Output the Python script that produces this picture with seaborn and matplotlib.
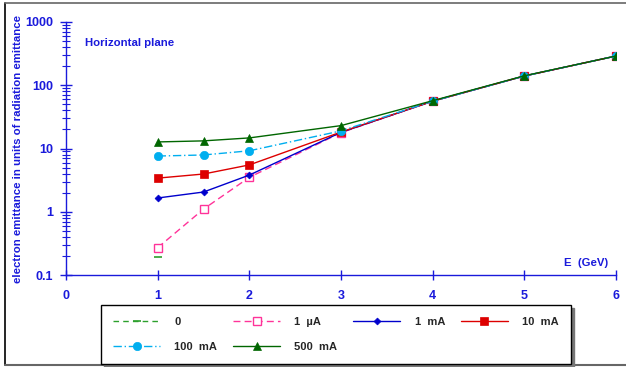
import numpy as np
import pandas as pd
import matplotlib
matplotlib.use("Agg")
import matplotlib.pyplot as plt
import seaborn as sns
from matplotlib.lines import Line2D
from matplotlib.ticker import LogLocator, NullFormatter, FixedLocator

# -------------------------------------------
# Data
# -------------------------------------------
energy = [1, 1.5, 2, 3, 4, 5, 6]

energy_zero = [1]
emit_zero = [0.19]

emit_1uA = [0.27, 1.1, 3.5, 17.8, 56, 140, 290]
emit_1mA = [1.65, 2.05, 3.8, 18.0, 56, 140, 290]
emit_10mA = [3.4, 3.95, 5.5, 18.2, 56, 140, 290]
emit_100mA = [7.6, 7.9, 9.2, 19.0, 56, 140, 290]
emit_500mA = [12.7, 13.2, 14.7, 23.0, 57, 141, 290]

series_labels = ["0", "1  µA", "1  mA", "10  mA", "100  mA", "500  mA"]

x_ticks = [0, 1, 2, 3, 4, 5, 6]
y_ticks = [0.1, 1, 10, 100, 1000]
y_tick_labels = ["0.1", "1", "10", "100", "1000"]

blue = "#1a1adb"

# -------------------------------------------
# Figure setup
# -------------------------------------------
sns.set_style("white")
plt.rcParams["font.family"] = ["Liberation Sans", "DejaVu Sans"]
plt.rcParams["font.weight"] = "bold"

fig = plt.figure(figsize=(6.26, 3.67), dpi=100)
ax = fig.add_axes([66 / 626, 1 - 275 / 367, 550 / 626, 253 / 367])

styles = [
    dict(color="#2ca02c", linestyle=(0, (4, 3)), marker="_", markersize=6, mew=1.2),
    dict(color="#ff3399", linestyle=(0, (5, 3)), marker="s", markersize=5.5,
         markerfacecolor="white", markeredgecolor="#ff3399", mew=1.0),
    dict(color="#0000cc", linestyle="-", marker="D", markersize=3.5),
    dict(color="#dd0000", linestyle="-", marker="s", markersize=5.5),
    dict(color="#00aeef", linestyle=(0, (6, 2, 1, 2)), marker="o", markersize=6),
    dict(color="#006600", linestyle="-", marker="^", markersize=6),
]

data_sets = [
    (energy_zero, emit_zero),
    (energy, emit_1uA),
    (energy, emit_1mA),
    (energy, emit_10mA),
    (energy, emit_100mA),
    (energy, emit_500mA),
]

handles = []
for (xs, ys), label, st in zip(data_sets, series_labels, styles):
    df = pd.DataFrame({"E": xs, "emit": ys})
    sns.lineplot(data=df, x="E", y="emit", ax=ax, color=st["color"],
                 linestyle=st["linestyle"], marker=st["marker"],
                 markersize=st["markersize"], linewidth=1.0,
                 markeredgewidth=st.get("mew", 0.5),
                 markerfacecolor=st.get("markerfacecolor", st["color"]),
                 markeredgecolor=st.get("markeredgecolor", st["color"]),
                 legend=False)
    handles.append(Line2D([0], [0], color=st["color"], linestyle=st["linestyle"],
                          marker=st["marker"], markersize=st["markersize"],
                          linewidth=1.0, markeredgewidth=st.get("mew", 0.5),
                          markerfacecolor=st.get("markerfacecolor", st["color"]),
                          markeredgecolor=st.get("markeredgecolor", st["color"]),
                          label=label))

# -------------------------------------------
# Axes styling
# -------------------------------------------
ax.set_yscale("log")
ax.set_xlim(0, 6)
ax.set_ylim(0.1, 1000)
ax.set_xlabel("")
ax.set_ylabel("")

for side in ["top", "right"]:
    ax.spines[side].set_visible(False)
for side in ["left", "bottom"]:
    ax.spines[side].set_color(blue)
    ax.spines[side].set_linewidth(1.0)

ax.xaxis.set_major_locator(FixedLocator(x_ticks))
ax.set_xticklabels([str(t) for t in x_ticks])
ax.yaxis.set_major_locator(FixedLocator(y_ticks))
ax.set_yticklabels(y_tick_labels)
ax.yaxis.set_minor_locator(LogLocator(base=10, subs=np.arange(2, 10)))
ax.yaxis.set_minor_formatter(NullFormatter())

ax.tick_params(axis="x", which="major", bottom=True, direction="inout", length=7,
               width=1, colors=blue, labelsize=9, pad=7)
ax.tick_params(axis="y", which="major", left=True, direction="inout", length=9,
               width=1, colors=blue, labelsize=9, pad=5)
ax.tick_params(axis="y", which="minor", left=True, direction="inout", length=6,
               width=0.8, colors=blue)
for lab in ax.get_xticklabels() + ax.get_yticklabels():
    lab.set_fontweight("bold")

ax.grid(False)

fig.text(18 / 626, 1 - 149 / 367,
         "electron emittance in units of radiation emittance",
         rotation=90, ha="center", va="center", color=blue, fontsize=8.2,
         fontweight="bold")
fig.text(85 / 626, 1 - 43 / 367, "Horizontal plane", ha="left", va="center",
         color=blue, fontsize=8.2, fontweight="bold")
fig.text(608 / 626, 1 - 263 / 367, "E  (GeV)", ha="right", va="center",
         color=blue, fontsize=8.2, fontweight="bold")

# -------------------------------------------
# Legend (row-wise order like the original) and outer frame
# -------------------------------------------
order = [0, 4, 1, 5, 2, 3]
leg = fig.legend(handles=[handles[i] for i in order], ncol=4, loc="lower left",
                 bbox_to_anchor=(101 / 626, 3 / 367, 470 / 626, 58 / 367),
                 mode="expand", borderaxespad=0, frameon=True, fancybox=False,
                 shadow={"color": "#777777", "alpha": 1, "ox": 2, "oy": -2},
                 handlelength=4.2, handletextpad=1.3,
                 prop={"size": 8, "weight": "bold"},
                 labelspacing=1.3, borderpad=1.1)
leg.get_frame().set_edgecolor("black")
leg.get_frame().set_linewidth(1.0)

fig.add_artist(Line2D([5 / 626, 5 / 626], [2 / 367, 1 - 3 / 367],
                      transform=fig.transFigure, color="black", linewidth=1.2))
fig.add_artist(Line2D([5 / 626, 1], [1 - 3 / 367, 1 - 3 / 367],
                      transform=fig.transFigure, color="#666666", linewidth=1.2))
fig.add_artist(Line2D([5 / 626, 1], [2 / 367, 2 / 367],
                      transform=fig.transFigure, color="#666666", linewidth=1.5))

fig.savefig("out.png", dpi=100)
